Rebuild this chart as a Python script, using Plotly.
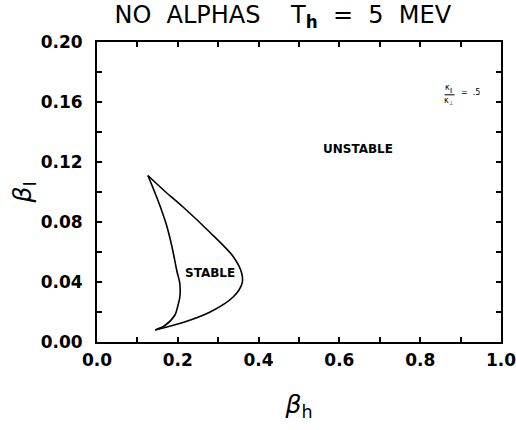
import plotly.graph_objects as go

# Stability boundary (beta_h, beta_I)
left_bh = [0.126, 0.150, 0.172, 0.186, 0.198, 0.205, 0.205, 0.200, 0.193, 0.168, 0.144]
left_bi = [0.111, 0.095, 0.078, 0.063, 0.047, 0.039, 0.030, 0.024, 0.018, 0.011, 0.008]
right_bh = [0.144, 0.213, 0.280, 0.337, 0.359, 0.358, 0.337, 0.280, 0.213, 0.170, 0.126]
right_bi = [0.008, 0.013, 0.020, 0.030, 0.039, 0.046, 0.057, 0.073, 0.090, 0.100, 0.111]

x_ticks = [0.0, 0.2, 0.4, 0.6, 0.8, 1.0]
x_labels = ["0.0", "0.2", "0.4", "0.6", "0.8", "1.0"]
y_ticks = [0.00, 0.04, 0.08, 0.12, 0.16, 0.20]
y_labels = ["0.00", "0.04", "0.08", "0.12", "0.16", "0.20"]

FONT = "DejaVu Sans"
line = dict(color="black", width=1.6, shape="spline", smoothing=0.8)

fig = go.Figure()
fig.add_trace(go.Scatter(x=left_bh, y=left_bi, mode="lines", line=line, hoverinfo="skip"))
fig.add_trace(go.Scatter(x=right_bh, y=right_bi, mode="lines", line=line, hoverinfo="skip"))

axis_common = dict(
    showgrid=False, zeroline=False, showline=True, linecolor="black", linewidth=2,
    mirror="ticks", ticks="inside", ticklen=5, tickwidth=1.5, tickcolor="black",
    tickfont=dict(family=FONT, size=17, color="black", weight="bold"),
    automargin=False, ticklabeloverflow="allow",
)
fig.update_xaxes(
    range=[0, 1.0], tickvals=x_ticks, ticktext=x_labels, ticklabelstandoff=2,
    minor=dict(dtick=0.1, ticks="inside", ticklen=5, tickwidth=1.5, tickcolor="black", showgrid=False),
    title=dict(text="<i>β</i><sub>h</sub>", font=dict(family=FONT, size=25, color="black"), standoff=26),
    **axis_common,
)
fig.update_yaxes(
    range=[0, 0.20], tickvals=y_ticks, ticktext=y_labels, ticklabelstandoff=9,
    minor=dict(dtick=0.02, ticks="inside", ticklen=5, tickwidth=1.5, tickcolor="black", showgrid=False),
    title=dict(text="<i>β</i><sub>I</sub>", font=dict(family=FONT, size=25, color="black"), standoff=2),
    **axis_common,
)

fig.add_annotation(x=0.28, y=0.046, text="<b>STABLE</b>", showarrow=False,
                   font=dict(family=FONT, size=12, color="black"))
fig.add_annotation(x=0.645, y=0.129, text="<b>UNSTABLE</b>", showarrow=False,
                   font=dict(family=FONT, size=12, color="black"))
fig.add_annotation(x=0.872, y=0.1690, text="κ<sub>∥</sub>", showarrow=False,
                   font=dict(family=FONT, size=8, color="black"))
fig.add_annotation(x=0.872, y=0.1605, text="κ<sub>⊥</sub>", showarrow=False,
                   font=dict(family=FONT, size=8, color="black"))
fig.add_annotation(x=0.925, y=0.1665, text="=  .5", showarrow=False,
                   font=dict(family=FONT, size=8, color="black"))
fig.add_shape(type="line", x0=0.860, x1=0.885, y0=0.1648, y1=0.1648,
              line=dict(color="black", width=1))

fig.update_layout(
    width=516, height=430,
    margin=dict(l=97, r=15, t=42, b=88),
    paper_bgcolor="white", plot_bgcolor="white",
    showlegend=False,
    title=dict(text="NO  ALPHAS    T<sub><b>h</b></sub>  =  5  MEV", x=0.548, xanchor="center",
               y=0.965, yanchor="middle",
               font=dict(family=FONT, size=24, color="black")),
)

fig.write_html("out.html", config={"displayModeBar": False},
               post_script="document.body.style.margin='0';")
